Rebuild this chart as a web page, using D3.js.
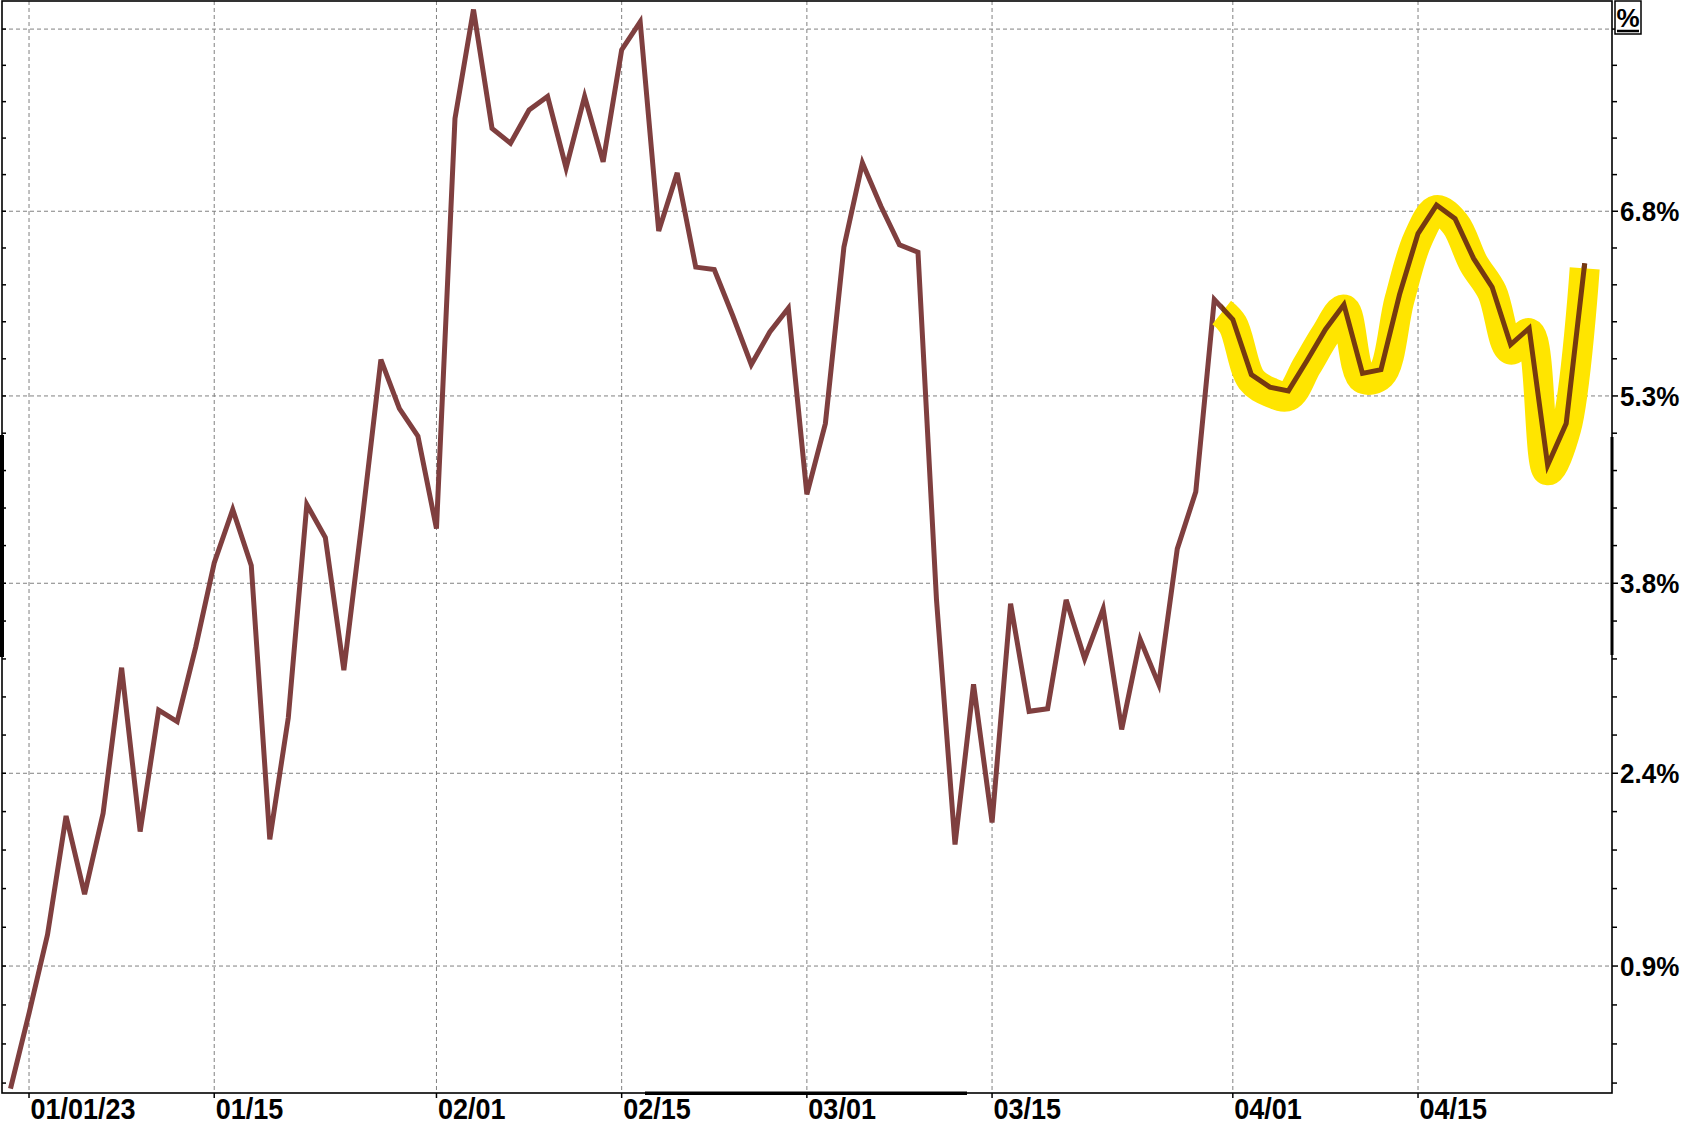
<!DOCTYPE html>
<html>
<head>
<meta charset="utf-8">
<script src="https://cdn.jsdelivr.net/npm/d3@7"></script>
<style>
  body { margin: 0; background: #fff; }
  svg { display: block; }
  text { font-family: "Liberation Sans", Arial, sans-serif; font-weight: bold; fill: #000; }
</style>
</head>
<body>
<svg id="chart" width="1681" height="1126"></svg>
<script>
// trading days, 12/30/22 through 04/28/23
const days = d3.utcDays(new Date(Date.UTC(2022, 11, 30)), new Date(Date.UTC(2023, 3, 29)))
  .filter(d => d.getUTCDay() !== 0 && d.getUTCDay() !== 6);

// one % value per trading day
const values = [
  -0.05, 0.52, 1.12, 2.03, 1.43, 2.05, 3.18, 1.91, 2.85, 2.76,
  3.34, 4.00, 4.42, 3.98, 1.85, 2.79, 4.46, 4.20, 3.16, 4.35,
  5.61, 5.22, 5.00, 4.27, 7.55, 8.44, 7.47, 7.35, 7.62, 7.73,
  7.15, 7.73, 7.20, 8.11, 8.34, 6.64, 7.11, 6.35, 6.33, 5.96,
  5.57, 5.83, 6.02, 4.54, 5.10, 6.51, 7.19, 6.84, 6.53, 6.47,
  3.71, 1.81, 3.05, 1.98, 3.68, 2.84, 2.86, 3.71, 3.25, 3.64,
  2.70, 3.40, 3.05, 4.11, 4.56, 6.09, 5.93, 5.49, 5.39, 5.36,
  5.60, 5.85, 6.05, 5.50, 5.53, 6.13, 6.62, 6.85, 6.74, 6.42,
  6.19, 5.73, 5.86, 4.77, 5.10, 6.38
];

const xTickDates = ['2023-01-02', '2023-01-16', '2023-02-01', '2023-02-15', '2023-03-01', '2023-03-15', '2023-04-03', '2023-04-17'];
const xTickLabels = ['01/01/23', '01/15', '02/01', '02/15', '03/01', '03/15', '04/01', '04/15'];

const yTicks = [0.88, 2.36, 3.84, 5.32, 6.80, 8.28];
const yTickLabels = ['0.9%', '2.4%', '3.8%', '5.3%', '6.8%', ''];
const yMinorStep = 0.296;
const yMin = -0.083, yMax = 8.51;

const highlightFrom = 65.4; // day index where the yellow marker starts

// plot frame
const plotLeft = 2, plotRight = 1612, plotTop = 1, plotBottom = 1093;

const svg = d3.select('#chart');

const x = d3.scaleLinear().domain([0, days.length - 1]).range([10.5, 1584.7]);
const yLog = d3.scaleLog().domain([1 + yMin / 100, 1 + yMax / 100]).range([plotBottom, plotTop]);
const y = v => yLog(1 + v / 100);

const tickIdx = xTickDates.map(s => days.findIndex(d => +d === +new Date(s)));

// grid
const grid = svg.append('g');
grid.selectAll('.vgrid').data(tickIdx).enter().append('line')
  .attr('x1', d => x(d)).attr('x2', d => x(d))
  .attr('y1', plotTop).attr('y2', plotBottom)
  .attr('stroke', '#808080').attr('stroke-dasharray', '4,3');
grid.selectAll('.hgrid').data(yTicks).enter().append('line')
  .attr('x1', plotLeft).attr('x2', plotRight)
  .attr('y1', d => y(d)).attr('y2', d => y(d))
  .attr('stroke', '#808080').attr('stroke-dasharray', '4,3');

// main line
const line = d3.line().x((d, i) => x(i)).y(d => y(d));
svg.append('path').datum(values)
  .attr('d', line)
  .attr('fill', 'none').attr('stroke', '#7f3f3f').attr('stroke-width', 5);

// yellow highlighter over the last stretch
const f = highlightFrom - Math.floor(highlightFrom);
const i0 = Math.floor(highlightFrom);
const markPts = [{ i: highlightFrom, v: values[i0] + f * (values[i0 + 1] - values[i0]) }]
  .concat(values.slice(i0 + 1).map((v, k) => ({ i: i0 + 1 + k, v })));
svg.append('path').datum(markPts)
  .attr('d', d3.line().x(d => x(d.i)).y(d => y(d.v) + 5).curve(d3.curveCatmullRom))
  .attr('fill', 'none').attr('stroke', '#ffe500').attr('stroke-width', 30)
  .attr('stroke-linecap', 'butt').attr('stroke-linejoin', 'round');

svg.append('clipPath').attr('id', 'hl')
  .append('rect').attr('x', x(highlightFrom)).attr('y', 0)
  .attr('width', 1681).attr('height', 1126);
svg.append('path').datum(values)
  .attr('d', line).attr('clip-path', 'url(#hl)')
  .attr('fill', 'none').attr('stroke', '#763a10').attr('stroke-width', 5);

// frame
svg.append('rect')
  .attr('x', plotLeft).attr('y', plotTop).attr('width', plotRight - plotLeft).attr('height', plotBottom - plotTop)
  .attr('fill', 'none').attr('stroke', '#000').attr('stroke-width', 1.6);

// thick range markers on the axes
svg.append('rect').attr('x', 0).attr('y', 435).attr('width', 4).attr('height', 222).attr('fill', '#000');
svg.append('rect').attr('x', plotRight - 1.5).attr('y', 437).attr('width', 3).attr('height', 218).attr('fill', '#000');
svg.append('rect').attr('x', 645).attr('y', plotBottom - 1.5).attr('width', 322).attr('height', 3.5).attr('fill', '#000');

// x ticks and labels
svg.selectAll('.xtick').data(tickIdx).enter().append('line')
  .attr('x1', d => x(d)).attr('x2', d => x(d))
  .attr('y1', plotBottom).attr('y2', plotBottom + 5)
  .attr('stroke', '#000').attr('stroke-width', 1.5);
svg.selectAll('.xlab').data(tickIdx).enter().append('text')
  .attr('transform', d => `translate(${x(d) + 1.5},1119) scale(1,1.06)`)
  .attr('font-size', 27)
  .text((d, i) => xTickLabels[i]);

// y minor ticks
const minor = d3.range(-3, 25).filter(k => k % 5 !== 0)
  .map(k => yTicks[0] + k * yMinorStep)
  .filter(v => v > yMin && v < yMax);
svg.selectAll('.yminR').data(minor).enter().append('line')
  .attr('x1', plotRight).attr('x2', plotRight + 5)
  .attr('y1', d => y(d)).attr('y2', d => y(d))
  .attr('stroke', '#000').attr('stroke-width', 1.5);
svg.selectAll('.yminL').data(minor.concat(yTicks)).enter().append('line')
  .attr('x1', plotLeft).attr('x2', plotLeft + 4)
  .attr('y1', d => y(d)).attr('y2', d => y(d))
  .attr('stroke', '#000').attr('stroke-width', 1.5);

// y major ticks and labels
svg.selectAll('.ytick').data(yTicks).enter().append('line')
  .attr('x1', plotRight).attr('x2', plotRight + 6)
  .attr('y1', d => y(d)).attr('y2', d => y(d))
  .attr('stroke', '#000').attr('stroke-width', 1.5);
svg.selectAll('.ylab').data(yTicks).enter().append('text')
  .attr('transform', d => `translate(1620,${y(d) + 10}) scale(1,1.08)`)
  .attr('font-size', 26)
  .text((d, i) => yTickLabels[i]);

// unit box
svg.append('rect').attr('x', 1615).attr('y', 1).attr('width', 26).attr('height', 33)
  .attr('fill', '#fff').attr('stroke', '#000').attr('stroke-width', 1.5);
svg.append('text').attr('x', 1628).attr('y', 27).attr('text-anchor', 'middle')
  .attr('font-size', 26).text('%');
svg.append('line').attr('x1', 1617).attr('x2', 1639).attr('y1', 31).attr('y2', 31)
  .attr('stroke', '#000').attr('stroke-width', 2.5);
</script>
</body>
</html>
